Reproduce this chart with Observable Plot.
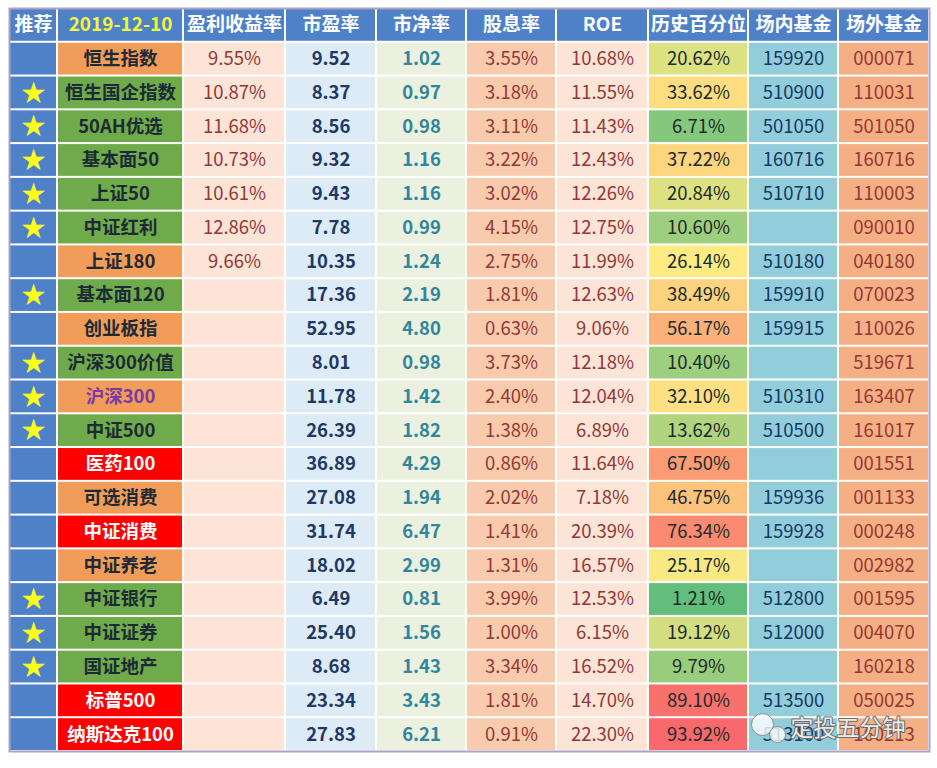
<!DOCTYPE html>
<html><head><meta charset="utf-8">
<script src="https://cdn.jsdelivr.net/npm/d3@7"></script>
<script src="https://cdn.jsdelivr.net/npm/@observablehq/plot@0.6"></script>
<style>
body{margin:0;background:#fff;}
#chart svg{display:block;font-family:"Noto Sans CJK SC","Noto Sans",sans-serif;}
</style>
</head><body><div id="chart"></div>
<script>
// ---- data ----
const headers = ["推荐","2019-12-10","盈利收益率","市盈率","市净率","股息率","ROE","历史百分位","场内基金","场外基金"];
const names = ["恒生指数","恒生国企指数","50AH优选","基本面50","上证50","中证红利","上证180","基本面120","创业板指","沪深300价值","沪深300","中证500","医药100","可选消费","中证消费","中证养老","中证银行","中证证券","国证地产","标普500","纳斯达克100"];
const recommended = [false,true,true,true,true,true,false,true,false,true,true,true,false,false,false,false,true,true,true,false,false];
// valuation status: 低估 (green), 正常 (orange), 高估 (red)
const status = ["正常","低估","低估","低估","低估","低估","正常","低估","正常","低估","正常","低估","高估","正常","高估","正常","低估","低估","低估","高估","高估"];
const highlighted = ["沪深300"];
const earningsYield = [9.55,10.87,11.68,10.73,10.61,12.86,9.66,null,null,null,null,null,null,null,null,null,null,null,null,null,null];
const pe = [9.52,8.37,8.56,9.32,9.43,7.78,10.35,17.36,52.95,8.01,11.78,26.39,36.89,27.08,31.74,18.02,6.49,25.40,8.68,23.34,27.83];
const pb = [1.02,0.97,0.98,1.16,1.16,0.99,1.24,2.19,4.80,0.98,1.42,1.82,4.29,1.94,6.47,2.99,0.81,1.56,1.43,3.43,6.21];
const dividendYield = [3.55,3.18,3.11,3.22,3.02,4.15,2.75,1.81,0.63,3.73,2.40,1.38,0.86,2.02,1.41,1.31,3.99,1.00,3.34,1.81,0.91];
const roe = [10.68,11.55,11.43,12.43,12.26,12.75,11.99,12.63,9.06,12.18,12.04,6.89,11.64,7.18,20.39,16.57,12.53,6.15,16.52,14.70,22.30];
const percentile = [20.62,33.62,6.71,37.22,20.84,10.60,26.14,38.49,56.17,10.40,32.10,13.62,67.50,46.75,76.34,25.17,1.21,19.12,9.79,89.10,93.92];
const onExchangeFund = ["159920","510900","501050","160716","510710","","510180","159910","159915","","510310","510500","","159936","159928","","512800","512000","","513500","513100"];
const offExchangeFund = ["000071","110031","501050","160716","110003","090010","040180","070023","110026","519671","163407","161017","001551","001133","000248","002982","001595","004070","160218","050025","160213"];
const watermark = "定投五分钟";

// ---- layout (not data) ----
const colWidths = [48,126,102,91,90,90,92,100,90,91];
const colStart = {}, colEnd = {}, colMid = {};
{ let acc = 0; headers.forEach((h,i)=>{ colStart[h]=acc; acc+=colWidths[i]; colEnd[h]=acc; colMid[h]=(colStart[h]+acc)/2; }); }
const totalW = d3.sum(colWidths);
const HEADER = "__header";

const rows = names.map((name,i)=>({
  name, rec: recommended[i], status: status[i], hi: highlighted.includes(name),
  ey: earningsYield[i], pe: pe[i], pb: pb[i], dy: dividendYield[i], roe: roe[i],
  pct: percentile[i], onEx: onExchangeFund[i], offEx: offExchangeFund[i]
}));

const pctFmt = v => v == null ? "" : v.toFixed(2) + "%";
const numFmt = v => v.toFixed(2);

const statusFill = {"低估":"#6fab4a","正常":"#f29c5a","高估":"#fe0000"};
const colBg = {
  "推荐":"#4f81c9","盈利收益率":"#fce4d6","市盈率":"#ddebf7","市净率":"#ebf1de",
  "股息率":"#f8cbad","ROE":"#fce4d6","场内基金":"#92cddc","场外基金":"#f4b084"
};
const ins = {insetLeft:1, insetRight:1, insetTop:1, insetBottom:1};
const FS = 18.5;

function bg(col, fill, data = rows) {
  return Plot.barX(data, {x1: ()=>colStart[col], x2: ()=>colEnd[col], y: "name", fill, ...ins});
}
function txt(col, text, fill, weight = "normal", data = rows, extra = {}) {
  return Plot.text(data, {x: ()=>colMid[col], y: "name", text, fill, fontSize: FS, fontWeight: weight, ...extra});
}

const marks = [
  // header
  Plot.barX(headers, {x1: h=>colStart[h], x2: h=>colEnd[h], y: ()=>HEADER, fill: "#4f81c9", ...ins}),
  Plot.text(headers, {x: h=>colMid[h], y: ()=>HEADER, text: d=>d, fill: h => h === headers[1] ? "#f5f53a" : "#ffffff", fontSize: 19, fontWeight: "bold"}),
  // backgrounds
  bg("推荐", colBg["推荐"]),
  ...Object.keys(statusFill).map(s => bg(headers[1], statusFill[s], rows.filter(r=>r.status===s))),
  bg("盈利收益率", colBg["盈利收益率"]),
  bg("市盈率", colBg["市盈率"]),
  bg("市净率", colBg["市净率"]),
  bg("股息率", colBg["股息率"]),
  bg("ROE", colBg["ROE"]),
  Plot.barX(rows, {x1: ()=>colStart["历史百分位"], x2: ()=>colEnd["历史百分位"], y: "name", fill: "pct", ...ins}),
  bg("场内基金", colBg["场内基金"]),
  bg("场外基金", colBg["场外基金"]),
  // texts
  Plot.text(rows.filter(r=>r.rec), {x: ()=>colMid["推荐"], y: "name", text: ()=>"★", fill: "#ffff1a", fontSize: 24}),
  txt(headers[1], "name", "#1c2a36", "bold", rows.filter(r=>r.status!=="高估" && !r.hi)),
  txt(headers[1], "name", "#ffffff", "bold", rows.filter(r=>r.status==="高估")),
  txt(headers[1], "name", "#7a3aa6", "bold", rows.filter(r=>r.hi)),
  txt("盈利收益率", r=>pctFmt(r.ey), "#953735"),
  txt("市盈率", r=>numFmt(r.pe), "#1f3864", "bold"),
  txt("市净率", r=>numFmt(r.pb), "#31869b", "bold"),
  txt("股息率", r=>pctFmt(r.dy), "#953735"),
  txt("ROE", r=>pctFmt(r.roe), "#953735"),
  txt("历史百分位", r=>pctFmt(r.pct), "#1e2a2a"),
  txt("场内基金", "onEx", "#17375e"),
  txt("场外基金", "offEx", "#953735"),
  // outer frame
  Plot.frame({stroke: "#aaa3c6", strokeWidth: 2}),
  // watermark
  Plot.dot([0], {frameAnchor: "bottom-right", dx: -167, dy: -27, r: 11, fill: "#ffffff", fillOpacity: 0.8, stroke: "#8a8a8a", strokeWidth: 1}),
  Plot.dot([0], {frameAnchor: "bottom-right", dx: -152, dy: -17, r: 8, fill: "#ffffff", fillOpacity: 0.8, stroke: "#8a8a8a", strokeWidth: 1}),
  Plot.text([watermark], {frameAnchor: "bottom-right", text: d=>d, dx: -24, dy: -23, lineAnchor: "middle", textAnchor: "end", fontSize: 23, fill: "#ffffff", fillOpacity: 0.9, stroke: "#6b6b6b", strokeWidth: 2, paintOrder: "stroke"})
];

const chart = Plot.plot({
  width: 937, height: 768,
  marginLeft: 9, marginRight: 8, marginTop: 8, marginBottom: 17,
  x: {domain: [0, totalW], axis: null},
  y: {domain: [HEADER, ...names], axis: null, padding: 0, round: false},
  color: {type: "linear", domain: [d3.min(percentile), d3.median(percentile), d3.max(percentile)], range: ["#63be7b","#ffeb84","#f8696b"]},
  style: {fontFamily: "'Noto Sans CJK SC','Noto Sans',sans-serif", background: "#fff"},
  marks
});
document.getElementById("chart").append(chart);
</script>
</body></html>
